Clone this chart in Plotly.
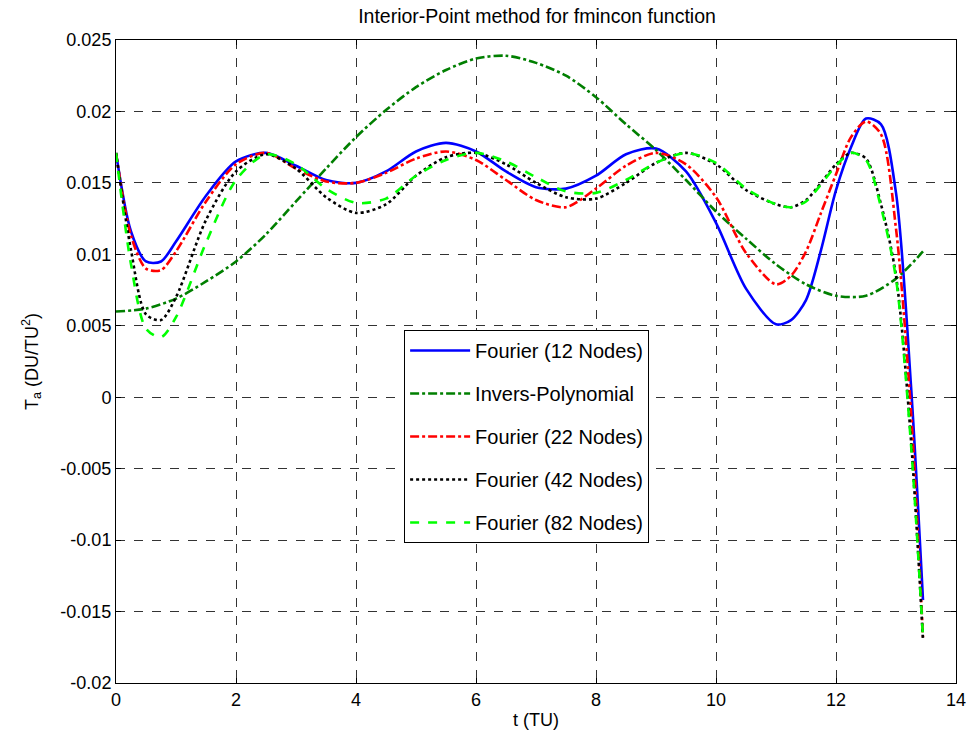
import plotly.graph_objects as go

t = [0, 0.25, 0.5, 0.75, 1, 1.5, 2, 2.5, 3, 3.5, 4, 4.5, 5, 5.5, 6, 6.5, 7, 7.5, 8,
     8.5, 9, 9.5, 10, 10.5, 11, 11.25, 11.5, 11.75, 12, 12.25, 12.5, 12.75, 13, 13.25, 13.45]

fourier12 = [0.0171, 0.0116, 0.0095, 0.0095, 0.0109, 0.0141, 0.0165, 0.0171, 0.0162, 0.0152,
             0.0150, 0.0158, 0.0172, 0.0178, 0.0172, 0.0158, 0.0147, 0.0146, 0.0155,
             0.0170, 0.0174, 0.0158, 0.0122, 0.0076, 0.0051, 0.0054, 0.0068, 0.0103,
             0.0145, 0.0175, 0.0195, 0.0191, 0.0143, 0.0008, -0.0142]
fourier22 = [0.0171, 0.0113, 0.0090, 0.0089, 0.0102, 0.0137, 0.0163, 0.0171, 0.0160, 0.0151,
             0.0150, 0.0157, 0.0167, 0.0172, 0.0166, 0.0152, 0.0138, 0.0133, 0.0146,
             0.0162, 0.0171, 0.0163, 0.0140, 0.0101, 0.0079, 0.0085, 0.0102, 0.0129,
             0.0156, 0.0182, 0.0193, 0.0184, 0.0118, -0.0010, -0.0168]
fourier42 = [0.0171, 0.0103, 0.0058, 0.0054, 0.0070, 0.0124, 0.0158, 0.0170, 0.0160, 0.0140,
             0.0129, 0.0135, 0.0155, 0.0168, 0.0171, 0.0163, 0.0150, 0.0140, 0.0139,
             0.0150, 0.0164, 0.0171, 0.0163, 0.0145, 0.0135, 0.0133, 0.0138, 0.0150,
             0.0163, 0.0171, 0.0167, 0.0135, 0.0085, -0.0030, -0.0170]
fourier82 = [0.0171, 0.0093, 0.0048, 0.0042, 0.0056, 0.0108, 0.0152, 0.0170, 0.0163, 0.0146,
             0.0136, 0.0139, 0.0155, 0.0166, 0.0171, 0.0165, 0.0154, 0.0144, 0.0143,
             0.0152, 0.0164, 0.0171, 0.0164, 0.0146, 0.0135, 0.0133, 0.0137, 0.0149,
             0.0162, 0.0171, 0.0166, 0.0133, 0.0083, -0.0033, -0.0168]

t_poly = [0, 0.5, 1, 1.5, 2, 2.5, 3, 3.5, 4, 4.5, 5, 5.5, 6, 6.5, 7, 7.5, 8, 8.5, 9,
          9.5, 10, 10.5, 11, 11.5, 12, 12.5, 13, 13.45]
inv_poly = [0.0060, 0.0062, 0.0069, 0.0081, 0.0095, 0.0114, 0.0137, 0.0160, 0.0182, 0.0201,
            0.0217, 0.0229, 0.0237, 0.0239, 0.0234, 0.0225, 0.0210, 0.0191, 0.0173,
            0.0152, 0.0130, 0.0111, 0.0093, 0.0079, 0.0071, 0.0071, 0.0083, 0.0102]

y_ticks = [0.025, 0.02, 0.015, 0.01, 0.005, 0, -0.005, -0.01, -0.015, -0.02]
y_tick_text = ["0.025", "0.02", "0.015", "0.01", "0.005", "0", "-0.005", "-0.01", "-0.015", "-0.02"]
x_ticks = [0, 2, 4, 6, 8, 10, 12, 14]

series = [
    ("Fourier (12 Nodes)", t, fourier12, "#0000ff", "solid"),
    ("Invers-Polynomial", t_poly, inv_poly, "#007f00", "dashdot"),
    ("Fourier (22 Nodes)", t, fourier22, "#ff0000", "dashdot"),
    ("Fourier (42 Nodes)", t, fourier42, "#000000", "dot"),
    ("Fourier (82 Nodes)", t, fourier82, "#00ff00", "dash"),
]

fig = go.Figure()
for name, xs, ys, color, dash in series:
    fig.add_trace(go.Scatter(x=xs, y=ys, name=name, mode="lines", legendgroup=name,
                             line=dict(color=color, dash=dash, width=2.6,
                                       shape="spline", smoothing=0.8)))

font = "Liberation Sans, Arial, sans-serif"
fig.update_layout(
    width=972, height=744,
    margin=dict(l=116, r=16, t=40, b=61),
    paper_bgcolor="white", plot_bgcolor="white",
    font=dict(family=font, size=18, color="black"),
    title=dict(text="Interior-Point method for fmincon function", x=0.5525, xanchor="center",
               y=0.9785, yanchor="middle", font=dict(size=19.5)),
    legend=dict(x=0.343, y=0.549, xanchor="left", yanchor="top", bgcolor="white",
                bordercolor="black", borderwidth=1, font=dict(size=20),
                tracegroupgap=14, traceorder="grouped", itemwidth=60),
    showlegend=True,
)
axis_common = dict(showline=True, linecolor="black", linewidth=1, mirror="ticks",
                   ticks="inside", ticklen=5, tickcolor="black",
                   showgrid=True, gridcolor="#333", gridwidth=1, griddash="dash",
                   zeroline=False, tickfont=dict(size=18), automargin=False)
fig.update_xaxes(range=[0, 14], tickvals=x_ticks,
                 title=dict(text="t (TU)", standoff=4, font=dict(size=18)), **axis_common)
fig.update_yaxes(range=[-0.02, 0.025], tickvals=y_ticks, ticktext=y_tick_text,
                 title=dict(text="T<sub>a</sub> (DU/TU<sup>2</sup>)", standoff=17, font=dict(size=18)),
                 **axis_common)

fig.write_html("out.html", config={"displayModeBar": False},
               post_script="document.body.style.margin='0';")
